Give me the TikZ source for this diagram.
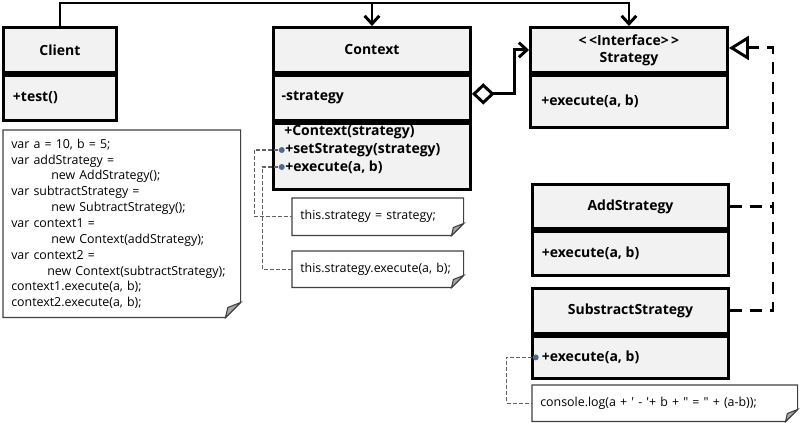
\documentclass[tikz,border=0pt]{standalone}
\usepackage{fontspec}
\setmainfont{Open Sans}
\newfontfamily\notefont{Open Sans}
\usetikzlibrary{positioning,calc,arrows.meta}
\hyphenpenalty=10000

% colours of the diagram
\definecolor{boxgray}{HTML}{F2F2F2}
\definecolor{noteedge}{HTML}{404040}
\definecolor{foldgray}{HTML}{A6A6A6}
\definecolor{linkgray}{HTML}{606060}
\definecolor{dotblue}{HTML}{4A6A94}

\tikzset{
  x=0.75pt, y=-0.75pt,
  boxsize/.style 2 args={minimum width=#1*0.75pt, minimum height=#2*0.75pt},
  compart/.style={draw, fill=boxgray, line width=2.2pt, anchor=north west,
    inner sep=0pt, font=\bfseries\fontsize{10.5}{12.75}\selectfont},
  opline/.style={anchor=west, inner sep=0pt, font=\bfseries\fontsize{10.5}{12.75}\selectfont},
  notebox/.style={anchor=north west, inner xsep=6pt, inner ysep=0pt,
    align=left, font=\notefont\fontsize{9.3}{11.9}\selectfont},
  pindot/.style={circle, fill=dotblue, inner sep=0pt, minimum size=4.5pt},
  bus/.style={line width=2.2pt},
  realize/.style={line width=2.2pt, dash pattern=on 9pt off 6pt},
  notelink/.style={line width=0.8pt, linkgray, dash pattern=on 3pt off 1.5pt},
  openhead/.style={-{Straight Barb[length=6pt,width=11pt]}},
}

% note outline with a folded corner: node name, fold size
\newcommand{\dogear}[2]{%
  \draw[noteedge, line width=0.8pt] (#1.north west) -- (#1.north east)
    -- ($(#1.south east)+(0,-#2)$) -- ($(#1.south east)+(-#2,0)$)
    -- (#1.south west) -- cycle;
  \filldraw[fill=foldgray, draw=noteedge, line width=0.8pt]
    ($(#1.south east)+(0,-#2)$) -- ($(#1.south east)+(-#2,0)$)
    -- ($(#1.south east)+(-0.85*#2,-0.67*#2)$) -- cycle;
}
\newcommand{\codeindent}{\hspace*{30pt}}

\begin{document}
\begin{tikzpicture}

  \useasboundingbox (0,0) rectangle (800,423);

  % classes
  \node[compart, boxsize={113}{45}] (clientT) at (2,26) {Client};
  \node[compart, boxsize={113}{45}] (clientO) at (clientT.south west) {};
  \node[opline, right=8pt of clientO.west] (clientTest) {+test()};

  \node[compart, boxsize={197}{45}] (ctxT) at (272,26) {Context};
  \node[compart, boxsize={197}{45}] (ctxA) at (ctxT.south west) {};
  \node[compart, boxsize={197}{66}] (ctxO) at (ctxA.south west) {};
  \node[opline, right=7pt of ctxA.west] (ctxField) {-strategy};
  \node[opline] (ctxNew) at (284,132) {+Context(strategy)};
  \node[opline] (ctxSet) at (285,150) {+setStrategy(strategy)};
  \node[opline] (ctxExec) at (285,167) {+execute(a, b)};

  \node[compart, boxsize={197}{45}, align=center] (stratT) at (529,26)
    {<\,<Interface>\,>\\Strategy};
  \node[compart, boxsize={197}{52}] (stratO) at (stratT.south west) {};
  \node[opline, right=9pt of stratO.west] (stratExec) {+execute(a, b)};

  \node[compart, boxsize={196}{44}] (addT) at (531,183) {AddStrategy};
  \node[compart, boxsize={196}{44}] (addO) at (addT.south west) {};
  \node[opline, right=8pt of addO.west] (addExec) {+execute(a, b)};

  \node[compart, boxsize={196}{45}] (subT) at (531,287) {SubstractStrategy};
  \node[compart, boxsize={196}{42}] (subO) at (subT.south west) {};
  \node[opline, right=8pt of subO.west] (subExec) {+execute(a, b)};

  % notes
  \node[notebox, text width=165.75pt, minimum height=140.25pt] (codeNote) at (3,130)
    {var a = 10, b = 5;\\
     var addStrategy =\\
     \codeindent new AddStrategy();\\
     var subtractStrategy =\\
     \codeindent new SubtractStrategy();\\
     var context1 =\\
     \codeindent new Context(addStrategy);\\
     var context2 =\\
     \hspace*{27pt}new Context(subtractStrategy);\\
     context1.execute(a, b);\\
     context2.execute(a, b);};
  \node[notebox, text width=116.25pt, minimum height=27.75pt] (noteSet) at (292,198)
    {this.strategy = strategy;};
  \node[notebox, text width=116.25pt, minimum height=27pt] (noteExec) at (292,251)
    {this.strategy.execute(a, b);};
  \node[notebox, text width=186.75pt, minimum height=27pt] (noteLog) at (532,385)
    {console.log(a + ' - '+ b + " = " + (a-b));};
  \dogear{codeNote}{15}
  \dogear{noteSet}{12}
  \dogear{noteExec}{12}
  \dogear{noteLog}{12}

  % association from Client
  \coordinate (busY) at (0,3);
  \draw[bus, openhead] (clientT.north) |- (busY -| stratT.north) -- (stratT.north);
  \draw[bus, openhead] (busY -| ctxT.north) -- (ctxT.north);

  % aggregation Context -> Strategy
  \draw[bus, {Diamond[open,length=17pt,width=16pt]}-{Straight Barb[length=6pt,width=11pt]}]
    ($(ctxA.east)+(0,-4)$) -- ++(43,0) |- (stratT.west);

  % realisation of the interface
  \coordinate (rail) at (773,0);
  \draw[realize] (addT.east) -- (addT.east -| rail);
  \draw[realize, -{Triangle[open,length=15pt,width=18pt]}]
    (subT.east) -| ($(rail |- stratT.east)+(0,-2)$) -- ($(stratT.east)+(0,-2)$);

  % links from operations to their notes
  \node[pindot, left=0pt of ctxSet.west] (ctxSetDot) {};
  \node[pindot, left=0pt of ctxExec.west] (ctxExecDot) {};
  \node[pindot, left=2pt of subExec.west] (subDot) {};
  \draw[notelink] (ctxSetDot.west) -- ++(-24,0) |- (noteSet.west);
  \draw[notelink] (ctxExecDot.west) -- ++(-16,0) |- (noteExec.west);
  \draw[notelink] (subDot.west) -- ++(-26,0) |- (noteLog.west);

\end{tikzpicture}
\end{document}
